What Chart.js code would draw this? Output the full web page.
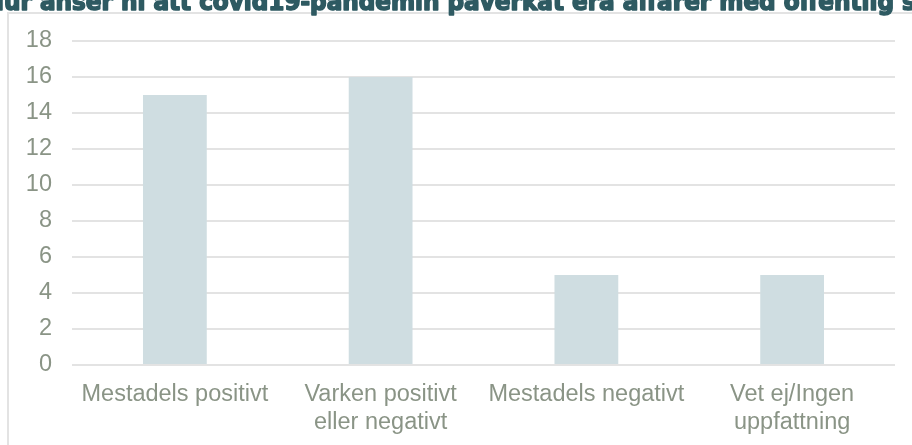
<!DOCTYPE html>
<html lang="sv">
<head>
    <meta charset="UTF-8">
    <title>Covid19 och offentlig sektor</title>
    <script src="https://cdn.jsdelivr.net/npm/chart.js"></script>
    <style>
        html, body {
            margin: 0;
            padding: 0;
            background: #ffffff;
            overflow: hidden;
        }
        .wrap {
            position: relative;
            width: 912px;
            height: 445px;
        }
        .frame {
            position: absolute;
            left: 7px;
            top: 12px;
            width: 1000px;
            height: 1000px;
            border: 2px solid #e3e3e3;
            box-sizing: border-box;
        }
        canvas {
            position: absolute;
            left: 0;
            top: 0;
        }
    </style>
</head>
<body>
<div class="wrap">
    <div class="frame"></div>
    <canvas id="myChart" width="912" height="445"></canvas>
</div>
<script>
    // chart data
    const title = 'Hur anser ni att covid19-pandemin påverkat era affärer med offentlig sektor?';
    const categories = [
        ['Mestadels positivt'],
        ['Varken positivt', 'eller negativt'],
        ['Mestadels negativt'],
        ['Vet ej/Ingen', 'uppfattning']
    ];
    const answers = [15, 16, 5, 5];
    const yTicks = [0, 2, 4, 6, 8, 10, 12, 14, 16, 18];

    const labelColor = '#8a9486';
    const labelFont = '"Liberation Sans", Arial, sans-serif';

    // the title sits partly above the top edge, like in the original
    const clippedTitle = {
        id: 'clippedTitle',
        afterDraw(chart) {
            const ctx = chart.ctx;
            ctx.save();
            ctx.font = 'bold 24px "DejaVu Sans"';
            const wH = ctx.measureText('H').width;
            const wPart = ctx.measureText('Hur anser ni att covid19-pandemin påverkat era affärer med offentlig ').width;
            const sx = 898 / (wPart - wH);
            ctx.translate(4 - wH * sx, 10);
            ctx.scale(sx, 1);
            ctx.fillStyle = '#2e5a62';
            ctx.strokeStyle = '#2e5a62';
            ctx.lineWidth = 1.6;
            ctx.lineJoin = 'round';
            ctx.textBaseline = 'alphabetic';
            ctx.strokeText(title, 0, 0);
            ctx.fillText(title, 0, 0);
            ctx.restore();
        }
    };

    const ctx = document.getElementById('myChart').getContext('2d');
    new Chart(ctx, {
        type: 'bar',
        data: {
            labels: categories,
            datasets: [{
                label: 'Antal',
                data: answers,
                backgroundColor: '#cfdde1',
                borderWidth: 0,
                categoryPercentage: 1,
                barPercentage: 0.31
            }]
        },
        options: {
            responsive: false,
            animation: false,
            layout: {
                padding: { top: 41, right: 17, bottom: 0, left: 26 }
            },
            plugins: {
                legend: { display: false },
                tooltip: { enabled: false }
            },
            scales: {
                x: {
                    afterFit(axis) {
                        axis.height = 80;
                        axis.paddingLeft = 0;
                        axis.paddingRight = 0;
                    },
                    grid: { display: false },
                    border: { display: false },
                    ticks: {
                        color: labelColor,
                        padding: 8,
                        maxRotation: 0,
                        autoSkip: false,
                        font: { family: labelFont, size: 23.5, lineHeight: 1.17 }
                    }
                },
                y: {
                    min: 0,
                    max: 18,
                    afterBuildTicks(axis) {
                        axis.ticks = yTicks.map(v => ({ value: v }));
                    },
                    afterFit(axis) {
                        axis.width = 46;
                        axis.paddingTop = 0;
                        axis.paddingBottom = 0;
                    },
                    grid: {
                        color: '#e3e3e3',
                        lineWidth: 2,
                        drawTicks: false
                    },
                    border: { display: false },
                    ticks: {
                        color: labelColor,
                        padding: 20,
                        font: { family: labelFont, size: 23.5 }
                    }
                }
            }
        },
        plugins: [clippedTitle]
    });
</script>
</body>
</html>
